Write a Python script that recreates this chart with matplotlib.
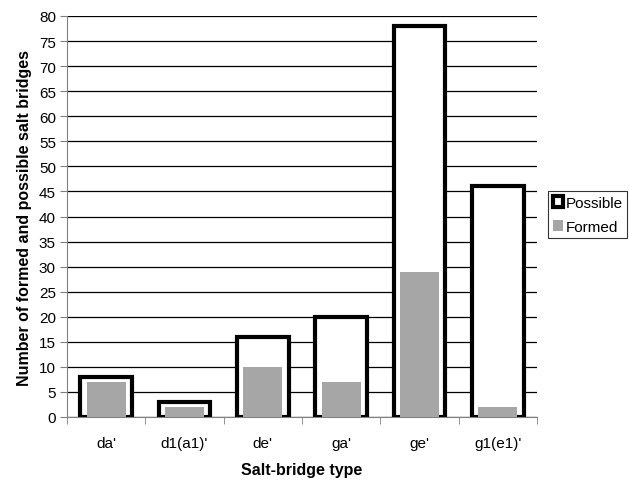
import numpy as np
import matplotlib.pyplot as plt

plt.rcParams['font.family'] = ['Liberation Sans', 'DejaVu Sans']

types = ["da'", "d1(a1)'", "de'", "ga'", "ge'", "g1(e1)'"]
possible = [8, 3, 16, 20, 78, 46]
formed = [7, 2, 10, 7, 29, 2]

fig = plt.figure(figsize=(6.3, 4.81), dpi=100)
ax = fig.add_axes([67/630, 63/481, 470/630, 401/481])

x = np.arange(len(types))
ax.bar(x, possible, width=0.66, color='white', edgecolor='black', linewidth=3, label='Possible', zorder=2)
ax.bar(x, formed, width=0.5, color='#a6a6a6', edgecolor='none', label='Formed', zorder=3)

ax.set_xlim(-0.5, len(types) - 0.5)
ax.set_ylim(0, 80)
ax.set_yticks(range(0, 81, 5))
ax.set_xticks(x)
ax.set_xticklabels(types)
ax.set_xticks(np.arange(-0.5, len(types), 1), minor=True)
ax.tick_params(axis='x', which='major', length=0, pad=14, labelsize=11)
ax.tick_params(axis='x', which='minor', length=5, color='#808080')
ax.tick_params(axis='y', length=5, color='#808080', labelsize=11, pad=3)
ax.grid(axis='y', color='black', linewidth=0.9, zorder=0)
ax.set_axisbelow(True)
for s in ['top', 'right']:
    ax.spines[s].set_visible(False)
ax.spines['left'].set_color('#808080')
ax.spines['bottom'].set_color('#808080')

ax.set_xlabel('Salt-bridge type', fontweight='bold', fontsize=11.5, labelpad=8)
ax.set_ylabel('Number of formed and possible salt bridges', fontweight='bold', fontsize=11.5, labelpad=5)

leg = ax.legend(loc='upper left', bbox_to_anchor=(548/630, 1 - 192/481), bbox_transform=fig.transFigure,
                frameon=True, fancybox=False, edgecolor='black', fontsize=11,
                handlelength=0.7, handleheight=0.7, handletextpad=0.15, borderpad=0.3, labelspacing=0.65,
                borderaxespad=0)
leg.get_frame().set_linewidth(0.8)
for h in leg.legend_handles:
    if h.get_label() == 'Possible':
        h.set_linewidth(2.5)

fig.savefig('out.png', dpi=100)
